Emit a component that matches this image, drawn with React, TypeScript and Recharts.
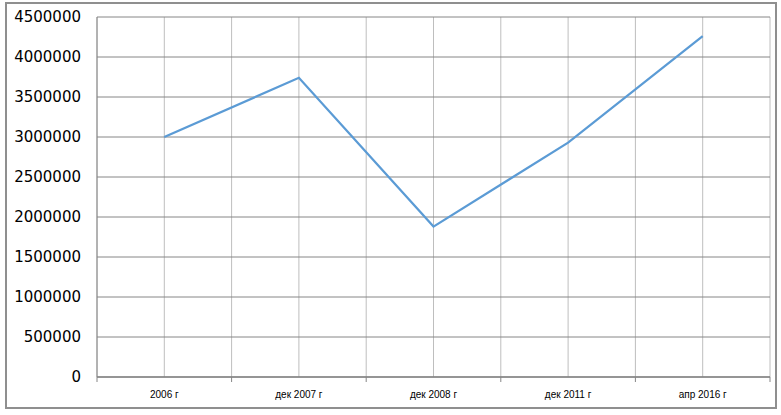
import React from "react";
import { LineChart, Line, XAxis, YAxis, CartesianGrid } from "recharts";

const CATEGORIES = ["2006 г", "дек 2007 г", "дек 2008 г", "дек 2011 г", "апр 2016 г"];
const VALUES = [3000000, 3740000, 1880000, 2930000, 4260000];
const Y_TICKS = [0, 500000, 1000000, 1500000, 2000000, 2500000, 3000000, 3500000, 4000000, 4500000];

// each category sits in the middle of its own slot, like Excel's "between tick marks"
const data = CATEGORIES.map((name, i) => ({ name, x: i + 0.5, value: VALUES[i] }));
const xTicks = Array.from({ length: CATEGORIES.length * 2 + 1 }, (_, i) => i / 2);

const AXIS_GRAY = "#868686";

function XTick(props: any) {
  const { x, y, payload } = props;
  const v = payload.value as number;
  if (Number.isInteger(v)) {
    return <line x1={x} y1={y} x2={x} y2={y + 5} stroke={AXIS_GRAY} strokeWidth={1} />;
  }
  const label = CATEGORIES[Math.floor(v)];
  return (
    <text x={x} y={y + 17} dy="0.35em" textAnchor="middle" fontFamily="Liberation Sans, Arial, sans-serif" fontSize={10} fill="#000">
      {label}
    </text>
  );
}

export default function App() {
  return (
    <div style={{ position: "fixed", left: 0, top: 0, width: 781, height: 415, background: "#fff", overflow: "hidden" }}>
      {/* chart area frame */}
      <div style={{ position: "absolute", left: 5, top: 2, width: 772, height: 407, border: "2px solid #8f8f8f", boxSizing: "border-box" }} />
      <div style={{ position: "absolute", left: 0, top: 0 }}>
        <LineChart width={781} height={415} data={data} margin={{ top: 17, right: 11, bottom: 0, left: 0 }}>
          <CartesianGrid horizontal={false} stroke="#bebebe" strokeWidth={1} />
          <CartesianGrid vertical={false} stroke={AXIS_GRAY} strokeWidth={1} />
          <XAxis
            dataKey="x"
            type="number"
            domain={[0, CATEGORIES.length]}
            ticks={xTicks}
            interval={0}
            height={38}
            tickSize={0}
            tickMargin={0}
            tickLine={false}
            axisLine={{ stroke: AXIS_GRAY, strokeWidth: 1.5 }}
            tick={<XTick />}
          />
          <YAxis
            type="number"
            domain={[0, 4500000]}
            ticks={Y_TICKS}
            interval={0}
            width={97}
            tickSize={0}
            tickMargin={16}
            tickLine={false}
            axisLine={{ stroke: AXIS_GRAY, strokeWidth: 1 }}
            tick={{ fontFamily: "DejaVu Sans, sans-serif", fontSize: 15, fill: "#000" }}
          />
          <Line
            type="linear"
            dataKey="value"
            stroke="#5b9bd5"
            strokeWidth={2.25}
            dot={false}
            isAnimationActive={false}
          />
        </LineChart>
      </div>
    </div>
  );
}
